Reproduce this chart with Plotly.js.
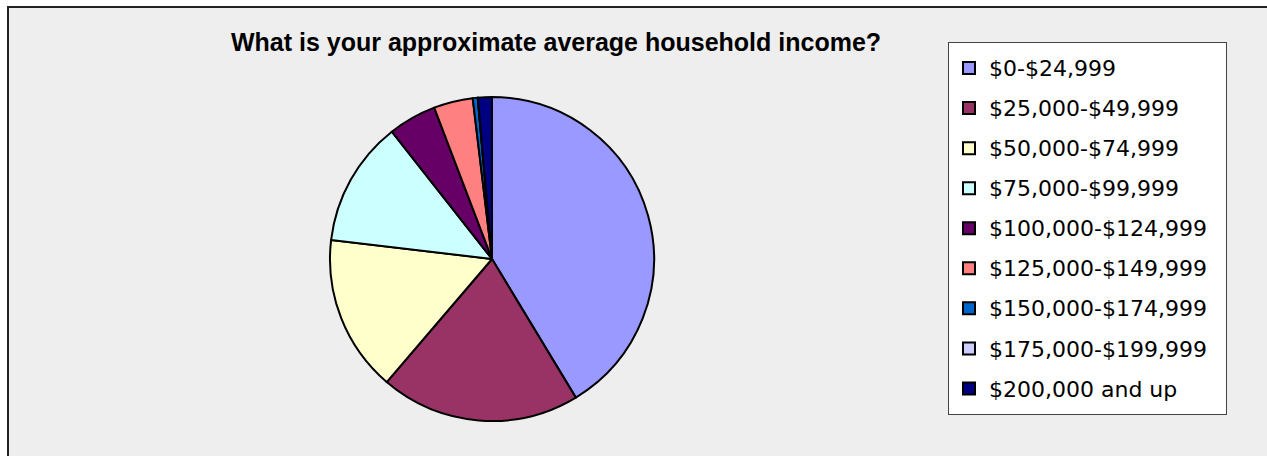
<!DOCTYPE html>
<html>
<head>
<meta charset="utf-8">
<script src="https://cdn.plot.ly/plotly-3.0.1.min.js"></script>
<style>
  html, body { margin: 0; padding: 0; background: #ffffff; }
  #chart { width: 1267px; height: 456px; }
</style>
</head>
<body>
<div id="chart"></div>
<script>
// Income brackets (legend order = slice order, clockwise from 12 o'clock)
const categories = [
  "$0-$24,999",
  "$25,000-$49,999",
  "$50,000-$74,999",
  "$75,000-$99,999",
  "$100,000-$124,999",
  "$125,000-$149,999",
  "$150,000-$174,999",
  "$175,000-$199,999",
  "$200,000 and up"
];
// Estimated share of respondents (%)
const shares = [41.3, 19.9, 15.6, 12.5, 4.8, 3.9, 0.5, 0, 1.4];
const sliceColors = ["#9999FF", "#993366", "#FFFFCC", "#CCFFFF", "#660066",
                     "#FF8080", "#0066CC", "#CCCCFF", "#000080"];
const chartTitle = "What is your approximate average household income?";

const W = 1267, H = 456;
const cx = 492, cy = 259, r = 162;

// legend text at 22px inside a taller legend row; trailing no-break spaces pad the box
const legendLabels = categories.map(c =>
  '<span style="font-size:22px;baseline-shift:3px">' + c + '&nbsp;&nbsp;</span>');

const trace = {
  type: "pie",
  labels: legendLabels,
  values: shares,
  sort: false,
  direction: "clockwise",
  rotation: 0,
  textinfo: "none",
  hoverinfo: "none",
  marker: { colors: sliceColors, line: { color: "#000000", width: 2 } },
  domain: { x: [(cx - r) / W, (cx + r) / W], y: [(H - cy - r) / H, (H - cy + r) / H] },
  showlegend: true
};

const layout = {
  width: W, height: H,
  margin: { l: 0, r: 0, t: 0, b: 0, pad: 0 },
  paper_bgcolor: "#ffffff",
  plot_bgcolor: "rgba(0,0,0,0)",
  title: {
    text: chartTitle,
    font: { family: "Liberation Sans, Arial, sans-serif", size: 25, color: "#000000", weight: "bold" },
    x: 556 / W, xanchor: "center", xref: "paper",
    y: 1 - 42 / H, yanchor: "middle", yref: "paper"
  },
  legend: {
    x: 948 / W, xanchor: "left",
    y: 1 - 42 / H, yanchor: "top",
    bgcolor: "#ffffff",
    bordercolor: "#444444",
    borderwidth: 1,
    font: { family: "DejaVu Sans, sans-serif", size: 28.5, color: "#000000" },
    traceorder: "normal"
  },
  shapes: [{
    type: "rect", xref: "paper", yref: "paper", layer: "below",
    x0: 8 / W, x1: 1.02, y0: -0.02, y1: 1 - 7 / H,
    fillcolor: "#EEEEEE", line: { color: "#222222", width: 2 }
  }]
};

Plotly.newPlot("chart", [trace], layout, { staticPlot: true, displayModeBar: false });
</script>
</body>
</html>
